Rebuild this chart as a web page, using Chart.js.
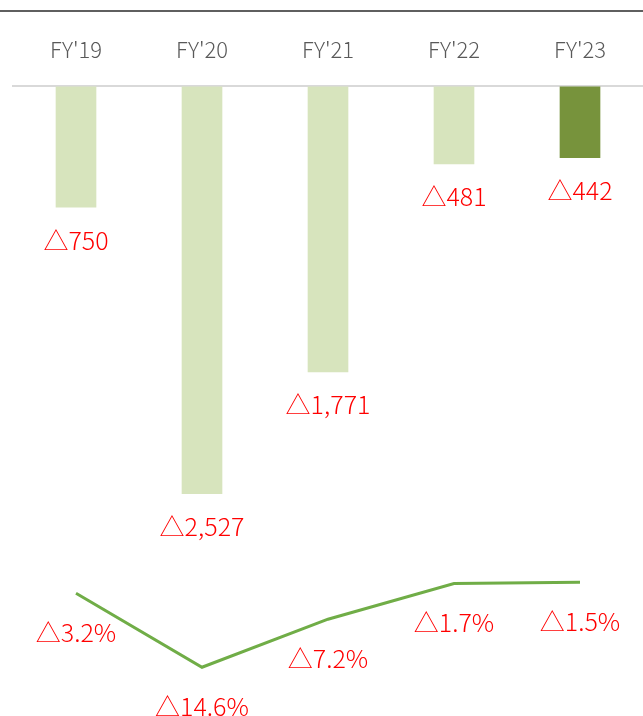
<!DOCTYPE html>
<html>
<head>
<meta charset="utf-8">
<script src="https://cdn.jsdelivr.net/npm/chart.js@4.4.1/dist/chart.umd.min.js"></script>
<style>
	body { margin: 0; background: #fff; }
	#wrap { position: relative; width: 643px; height: 716px; }
	#topline { position: absolute; left: 0; top: 10px; width: 643px; border-top: 2px solid #5f5f5f; }
	#barcanvas { position: absolute; left: 0; top: 0; }
</style>
</head>
<body>
<div id="wrap">
	<canvas id="barcanvas" width="643" height="716"></canvas>
	<div id="topline"></div>
</div>
<script>
var years = ["FY'19", "FY'20", "FY'21", "FY'22", "FY'23"];
var lossValues = [-750, -2527, -1771, -481, -442];
var marginValues = [-3.2, -14.6, -7.2, -1.7, -1.5];
var barColors = ['#d7e4bd', '#d7e4bd', '#d7e4bd', '#d7e4bd', '#77933c'];

var labelFont = '"Noto Sans CJK JP", "Noto Sans", sans-serif';

function fmtLoss(v) {
	return '\u25B3' + Math.abs(v).toLocaleString('en-US');
}
function fmtPct(v) {
	return '\u25B3' + Math.abs(v).toFixed(1) + '%';
}

// draws the red labels under each bar and each point of the line
var valueLabels = {
	id: 'valueLabels',
	afterDatasetsDraw: function(chart) {
		var ctx = chart.ctx;
		ctx.save();
		ctx.fillStyle = '#ff0000';
		ctx.font = '300 25px ' + labelFont;
		ctx.textAlign = 'center';
		ctx.textBaseline = 'middle';
		chart.getDatasetMeta(0).data.forEach(function(bar, i) {
			ctx.fillText(fmtLoss(lossValues[i]), bar.x, bar.y + 33);
		});
		chart.getDatasetMeta(1).data.forEach(function(pt, i) {
			ctx.fillText(fmtPct(marginValues[i]), pt.x, pt.y + 39);
		});
		ctx.restore();
	}
};

var ctx = document.getElementById('barcanvas');

var chartdata = {
	labels: years,
	datasets: [
		{
			type: 'bar',
			label: 'Operating loss',
			data: lossValues,
			backgroundColor: barColors,
			borderWidth: 0,
			barThickness: 40,
			yAxisID: 'y'
		},
		{
			type: 'line',
			label: 'Margin',
			data: marginValues,
			borderColor: '#70ad47',
			borderWidth: 3,
			pointRadius: 0,
			tension: 0,
			fill: false,
			yAxisID: 'y1'
		}
	]
};

var barGraph = new Chart(ctx, {
	data: chartdata,
	plugins: [valueLabels],
	options: {
		responsive: false,
		animation: false,
		devicePixelRatio: 1,
		layout: { padding: { top: 12, left: 13, right: 0, bottom: 0 } },
		plugins: {
			legend: { display: false },
			tooltip: { enabled: false }
		},
		scales: {
			x: {
				position: 'top',
				grid: { display: false, drawTicks: false },
				border: { display: true, color: '#d9d9d9', width: 2 },
				ticks: {
					color: '#595959',
					padding: 24,
					font: { family: labelFont, size: 22, weight: '300' }
				}
			},
			y: {
				display: false,
				min: -3906,
				max: 0
			},
			y1: {
				display: false,
				min: -22.1,
				max: 74.8
			}
		}
	}
});
</script>
</body>
</html>
